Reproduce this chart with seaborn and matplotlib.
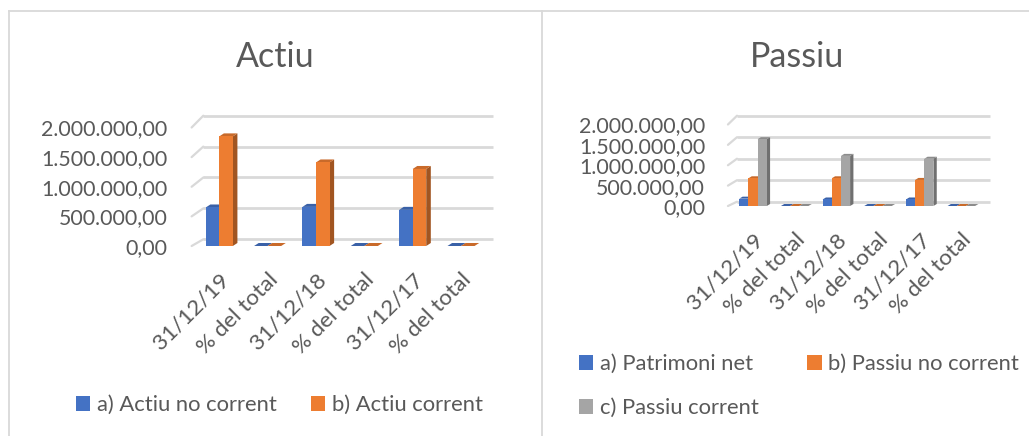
import numpy as np
import pandas as pd
import seaborn as sns
import matplotlib
matplotlib.use("Agg")
import matplotlib.pyplot as plt
from matplotlib.patches import Polygon, Patch, ConnectionPatch
from matplotlib.transforms import IdentityTransform
from matplotlib.colors import to_rgb

# ---------------- data ----------------
categories = ["31/12/19", "% del total", "31/12/18", "% del total", "31/12/17", "% del total"]

actiu_series = ["a) Actiu no corrent", "b) Actiu corrent"]
actiu_no_corrent = [650000, 26.0, 660000, 31.9, 610000, 32.0]
actiu_corrent = [1850000, 74.0, 1410000, 68.1, 1300000, 68.0]

passiu_series = ["a) Patrimoni net", "b) Passiu no corrent", "c) Passiu corrent"]
patrimoni_net = [180000, 7.2, 160000, 7.7, 160000, 8.2]
passiu_no_corrent = [680000, 27.2, 680000, 32.9, 640000, 32.7]
passiu_corrent = [1640000, 65.6, 1230000, 59.4, 1160000, 59.1]

y_ticks = [0, 500000, 1000000, 1500000, 2000000]

titles = ["Actiu", "Passiu"]
colors = ["#4472C4", "#ED7D31", "#A5A5A5"]

# ---------------- style ----------------
sns.set_style("white")
plt.rcParams["font.family"] = ["Lato", "DejaVu Sans"]
TXT = "#595959"
GRID = "#D9D9D9"
TICK_FS = 15.4
XTICK_FS = 16.2
LEG_FS = 15.8

W, H = 1029, 436
DPI = 100
fig = plt.figure(figsize=(W / DPI, H / DPI), dpi=DPI)
fig.patch.set_facecolor("white")


def px_rect(x0, x1, ybot, ytop):
    return [x0 / W, 1 - ybot / H, (x1 - x0) / W, (ybot - ytop) / H]


def fmt(v):
    s = f"{v:,.2f}"
    return s.replace(",", "X").replace(".", ",").replace("X", ".")


# panel borders
bgL = fig.add_axes(px_rect(8.5, 541.5, H + 10, 10.7), zorder=0)
bgR = fig.add_axes(px_rect(541.5, W + 10, H + 10, 10.7), zorder=0)
for bg in (bgL, bgR):
    bg.set_xticks([])
    bg.set_yticks([])
    bg.set_facecolor("none")
    for s in ("right", "bottom"):
        bg.spines[s].set_visible(False)
    for s in ("left", "top"):
        bg.spines[s].set_color(GRID)
        bg.spines[s].set_linewidth(1.3)


def panel(series_names, series_values, geo, title, title_x):
    rows = []
    for name, vals in zip(series_names, series_values):
        for i, v in enumerate(vals):
            rows.append({"pos": i, "value": v, "series": name})
    df = pd.DataFrame(rows)

    back = fig.add_axes(px_rect(geo["back_x"][0], geo["back_x"][1], geo["back_y"][0], geo["back_y"][1]), zorder=1)
    back.set_ylim(0, 2000000)
    back.set_xlim(0, 1)
    back.axis("off")
    back.hlines(y_ticks, 0, 1, transform=back.get_yaxis_transform(), colors=GRID,
                linewidth=2.0, clip_on=False)

    ax = fig.add_axes(px_rect(geo["front_x"][0], geo["front_x"][1], geo["front_y"][0], geo["front_y"][1]), zorder=2)
    ax.set_facecolor("none")
    sns.barplot(data=df, x="pos", y="value", hue="series", hue_order=series_names,
                palette=colors[:len(series_names)], width=geo["width"], saturation=1,
                linewidth=0, legend=False, ax=ax, zorder=3)
    bars = list(ax.patches)
    ax.set_xlim(-0.5, len(categories) - 0.5)
    ax.set_ylim(0, 2000000)
    ax.set_xlabel("")
    ax.set_ylabel("")
    for s in ax.spines.values():
        s.set_visible(False)
    ax.tick_params(axis="y", length=0, pad=geo["ypad"])
    ax.tick_params(axis="x", length=0, pad=geo["xpad"])
    ax.set_yticks(y_ticks)
    ax.set_yticklabels([fmt(v) for v in y_ticks])
    ax.set_xticks(range(len(categories)))
    ax.set_xticklabels(categories)
    plt.setp(ax.get_yticklabels(), fontsize=TICK_FS, color=TXT)
    plt.setp(ax.get_xticklabels(), fontsize=XTICK_FS, color=TXT, rotation=45,
             ha="right", va="top", rotation_mode="anchor")

    # perspective diagonals connecting floor front to back wall
    for v in y_ticks:
        cp = ConnectionPatch(xyA=(geo["diag_frac"], v), coordsA=ax.get_yaxis_transform(),
                             xyB=(0, v), coordsB=back.get_yaxis_transform(),
                             color=GRID, linewidth=1.6, zorder=1)
        fig.add_artist(cp)

    # 3D faces of bars
    dx, dy = geo["depth"]
    for b in bars:
        x0, y0 = b.get_x(), b.get_y()
        x1, y1 = x0 + b.get_width(), y0 + b.get_height()
        (X0, Y0), (X1, Y1) = ax.transData.transform([(x0, y0), (x1, y1)])
        c = np.array(to_rgb(b.get_facecolor()))
        side = Polygon([(X1, Y0), (X1 + dx, Y0 + dy), (X1 + dx, Y1 + dy), (X1, Y1)],
                       closed=True, facecolor=c * 0.68, edgecolor="none",
                       transform=IdentityTransform(), clip_on=False, zorder=2.5)
        top = Polygon([(X0, Y1), (X0 + dx, Y1 + dy), (X1 + dx, Y1 + dy), (X1, Y1)],
                      closed=True, facecolor=c * 0.85, edgecolor="none",
                      transform=IdentityTransform(), clip_on=False, zorder=2.5)
        ax.add_patch(side)
        ax.add_patch(top)

    fig.text(title_x / W, 1 - 57 / H, title, ha="center", va="center",
             fontsize=24.5, color=TXT)

    handles = [Patch(facecolor=colors[i], edgecolor="none") for i in range(len(series_names))]
    order = geo["leg_order"]
    leg = fig.legend([handles[i] for i in order], [series_names[i] for i in order],
                     loc="center left",
                     bbox_to_anchor=(geo["leg_x"] / W, 1 - geo["leg_y"] / H),
                     bbox_transform=fig.transFigure, ncol=2, frameon=False,
                     fontsize=LEG_FS, handlelength=0.66, handleheight=0.66,
                     handletextpad=0.3, columnspacing=geo["colspace"],
                     labelspacing=1.1, borderpad=0, borderaxespad=0)
    for t in leg.get_texts():
        t.set_color(TXT)
    return ax


geoL = dict(front_x=(195.1, 485.2), front_y=(246, 127.5),
            back_x=(203.3, 492.7), back_y=(239.3, 115.7),
            diag_frac=-0.012, depth=(4.6, 3.0), width=0.56,
            ypad=20, xpad=17, leg_x=76, leg_y=405, colspace=1.55, leg_order=[0, 1])
geoR = dict(front_x=(732.2, 982.2), front_y=(206, 124.5),
            back_x=(737, 990), back_y=(201.7, 115.7),
            diag_frac=-0.017, depth=(3.3, 2.0), width=0.66,
            ypad=19.5, xpad=17, leg_x=579, leg_y=386, colspace=2.2, leg_order=[0, 2, 1])

panel(actiu_series, [actiu_no_corrent, actiu_corrent], geoL, titles[0], 275)
panel(passiu_series, [patrimoni_net, passiu_no_corrent, passiu_corrent], geoR, titles[1], 797)

fig.savefig("out.png", dpi=DPI)
